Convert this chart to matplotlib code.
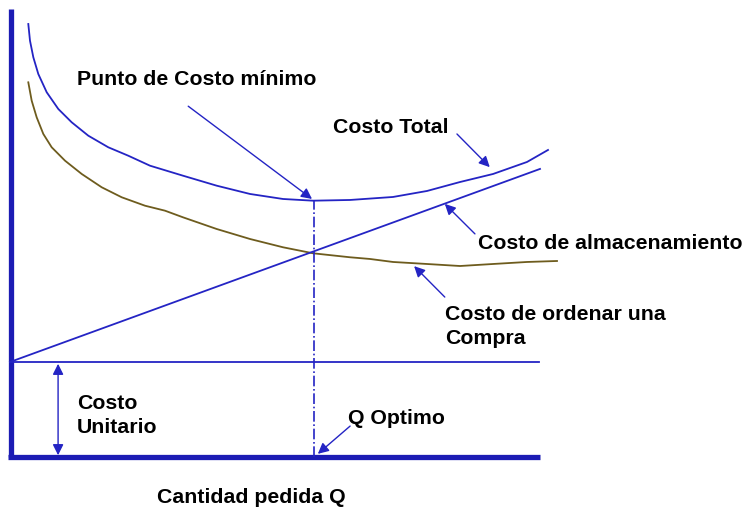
import matplotlib
matplotlib.use('Agg')
import matplotlib.pyplot as plt

# schematic EOQ chart: cantidad pedida (Q) vs costo
# costo total (blue curve)
total_q    = [3.27, 3.59, 4.22, 5.16, 6.75, 8.94, 11.47, 14.61, 18.39, 22.17, 26.28, 32.51, 38.88, 45.18,
              51.42, 57.09, 64.08, 72.21, 78.64, 84.88, 91.12, 97.54, 101.51]
total_cost = [96.65, 92.92, 89.22, 85.49, 81.41, 77.68, 74.71, 71.72, 69.13, 67.25, 65.02, 62.79, 60.56, 58.71,
              57.59, 57.21, 57.37, 58.04, 59.38, 61.38, 63.17, 65.85, 68.53]
# costo de ordenar una compra (olive curve)
order_q    = [3.27, 3.91, 4.85, 6.11, 7.69, 10.21, 13.37, 17.15, 20.93, 25.33, 29.11, 32.51, 38.88, 45.18,
              51.42, 57.09, 64.08, 67.86, 72.21, 78.64, 84.88, 91.12, 97.54, 103.21]
order_cost = [83.63, 79.53, 75.83, 72.10, 69.13, 66.14, 63.17, 60.20, 57.97, 56.09, 54.98, 53.50, 50.89, 48.66,
              46.81, 45.47, 44.58, 44.20, 43.53, 43.08, 42.63, 43.08, 43.53, 43.75]
# costo de almacenamiento (straight line)
store_q    = [-0.2, 100.0]
store_cost = [21.2, 64.3]
# costo unitario (flat line)
unit_q     = [-0.2, 99.8]
unit_cost  = [21.2, 21.2]
q_opt, cost_min = 57.3, 57.2

blue = '#2424c4'
axis_blue = '#1c1cb4'
olive = '#6e5c1e'

fig = plt.figure(figsize=(7.44, 5.10), dpi=100)
ax = fig.add_axes([0, 0, 1, 1])
ax.set_xlim(-2.08, 138.56)
ax.set_ylim(-11.61, 102.23)
ax.axis('off')

# axes drawn by hand (thick blue)
ax.plot([0, 0], [0, 100], color=axis_blue, lw=3.8, solid_capstyle='butt')
ax.plot([-0.6, 100], [0, 0], color=axis_blue, lw=3.8, solid_capstyle='butt')

ax.plot(total_q, total_cost, color=blue, lw=1.3)
ax.plot(order_q, order_cost, color=olive, lw=1.3)
ax.plot(store_q, store_cost, color=blue, lw=1.3)
ax.plot(unit_q, unit_cost, color=blue, lw=1.3)
ax.plot([q_opt, q_opt], [0, cost_min], color=blue, lw=1.2, linestyle='-.')

fs = 15.3
tkw = dict(fontsize=fs, fontweight='bold', family='Liberation Sans', color='black', va='center', ha='left')
ax.text(12.5, 84.4, 'Punto de Costo mínimo', **tkw)
ax.text(60.9, 73.7, 'Costo Total', **tkw)
ax.text(88.3, 47.8, 'Costo de almacenamiento', **tkw)
ax.text(82.0, 29.4, 'Costo de ordenar una\nCompra', linespacing=1.3, **tkw)
ax.text(12.5, 9.5, 'Costo\nUnitario', linespacing=1.35, **tkw)
ax.text(63.7, 8.9, 'Q Optimo', **tkw)
ax.text(27.6, -8.9, 'Cantidad pedida Q', **tkw)

akw = dict(arrowstyle='-|>', color=blue, lw=1.0, mutation_scale=16, shrinkA=0, shrinkB=0)
ax.annotate('', xy=(56.9, 57.6), xytext=(33.5, 78.3), arrowprops=akw)
ax.annotate('', xy=(90.5, 64.7), xytext=(84.3, 72.1), arrowprops=akw)
ax.annotate('', xy=(82.0, 56.5), xytext=(87.7, 49.8), arrowprops=akw)
ax.annotate('', xy=(76.2, 42.6), xytext=(82.0, 35.7), arrowprops=akw)
ax.annotate('', xy=(58.0, 0.7), xytext=(64.1, 6.9), arrowprops=akw)
ax.annotate('', xy=(8.9, 0.4), xytext=(8.9, 20.8),
            arrowprops=dict(arrowstyle='<|-|>', color=blue, lw=1.0, mutation_scale=16, shrinkA=0, shrinkB=0))

fig.savefig('out.png', dpi=100)
